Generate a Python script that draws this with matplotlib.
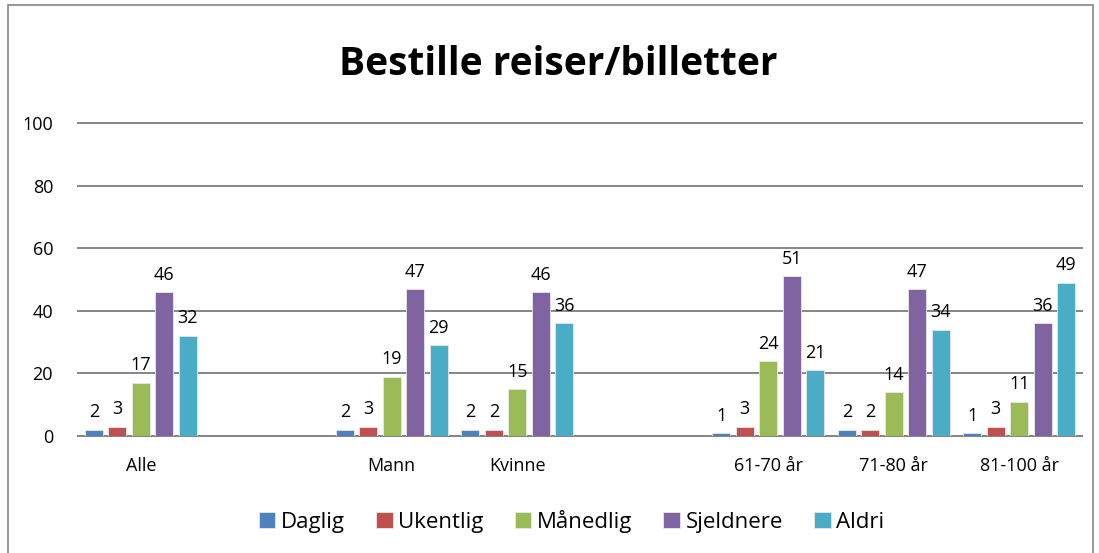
import numpy as np
import matplotlib.pyplot as plt
from matplotlib.patches import Rectangle

plt.rcParams['font.family'] = ['Open Sans', 'DejaVu Sans']

categories = ["Alle", "", "Mann", "Kvinne", "", "61-70 år", "71-80 år", "81-100 år"]
series = ["Daglig", "Ukentlig", "Månedlig", "Sjeldnere", "Aldri"]
daglig = [2, None, 2, 2, None, 1, 2, 1]
ukentlig = [3, None, 3, 2, None, 3, 2, 3]
maanedlig = [17, None, 19, 15, None, 24, 14, 11]
sjeldnere = [46, None, 47, 46, None, 51, 47, 36]
aldri = [32, None, 29, 36, None, 21, 34, 49]
colors = ["#4F81BD", "#C0504D", "#9BBB59", "#8064A2", "#4BACC6"]

fig = plt.figure(figsize=(10.99, 5.53), dpi=100)
ax = fig.add_axes([0.071, 0.2116, 0.9135, 0.566])

x = np.arange(len(categories))
pitch = 0.187
width = 0.145
for i, vals in enumerate([daglig, ukentlig, maanedlig, sjeldnere, aldri]):
    xs = [x[j] + (i - 2) * pitch for j in range(len(vals)) if vals[j] is not None]
    vs = [v for v in vals if v is not None]
    ax.bar(xs, vs, width, color=colors[i], edgecolor="#e8e8e8", linewidth=0.6,
           label=series[i], zorder=3)
    for xb, v in zip(xs, vs):
        ax.annotate(str(v), (xb, v), xytext=(0, 6), textcoords="offset points",
                    ha="center", va="bottom", fontsize=13)

ax.set_xlim(-0.5, len(categories) - 0.5)
ax.set_ylim(0, 100)
ax.set_yticks([0, 20, 40, 60, 80, 100])
ax.set_xticks(x)
ax.set_xticklabels(categories, fontsize=13)
ax.tick_params(axis="y", labelsize=13, length=0, pad=18)
ax.tick_params(axis="x", length=0, pad=15)
ax.grid(axis="y", color="#868686", linewidth=1.4, zorder=0)
for gl in ax.get_ygridlines():
    gl.set_clip_on(False)
for s in ["left", "right", "top"]:
    ax.spines[s].set_visible(False)
ax.spines["bottom"].set_color("#868686")
ax.spines["bottom"].set_linewidth(1.4)

fig.text(0.508, 0.884, "Bestille reiser/billetter", ha="center", va="center",
         fontsize=28, fontweight="bold")

fig.legend(loc="center", bbox_to_anchor=(0.52, 0.057), ncol=5, frameon=False,
           fontsize=16, handlelength=0.75, handleheight=0.75, handletextpad=0.25,
           columnspacing=1.4)

fig.patches.append(Rectangle((8 / 1099, -0.1), 1085 / 1099, 1.1 - 5 / 553,
                             transform=fig.transFigure, fill=False,
                             edgecolor="#868686", linewidth=1.2))

fig.savefig("out.png", dpi=100)
